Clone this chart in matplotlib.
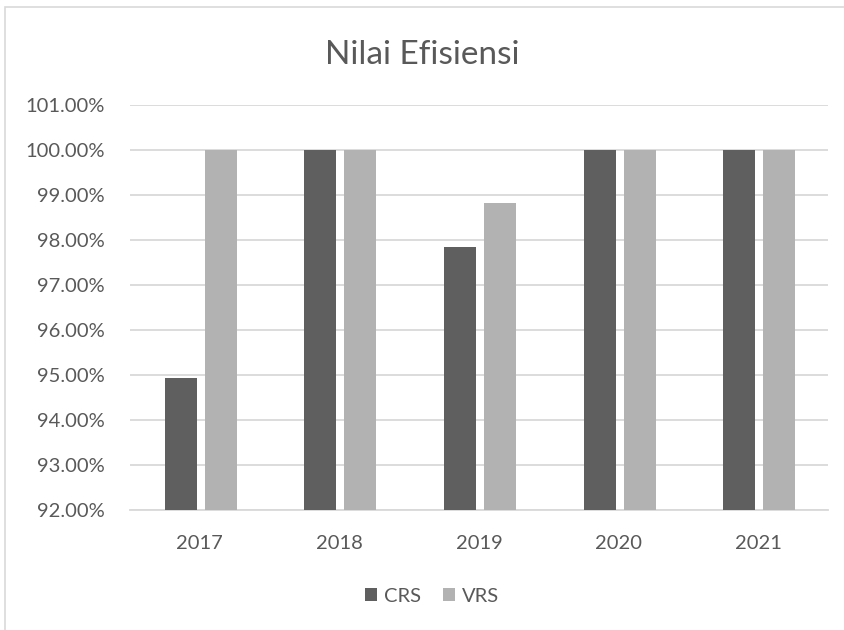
import matplotlib
matplotlib.use("Agg")
import matplotlib.pyplot as plt
from matplotlib.patches import Rectangle
import numpy as np

years = ["2017", "2018", "2019", "2020", "2021"]
crs = [94.93, 100.0, 97.85, 100.0, 100.0]
vrs = [100.0, 100.0, 98.82, 100.0, 100.0]
yticks = [92, 93, 94, 95, 96, 97, 98, 99, 100, 101]

plt.rcParams['font.family'] = ['Lato', 'DejaVu Sans']
txt = '#595959'
grid = '#d9d9d9'

fig = plt.figure(figsize=(8.45, 6.3), dpi=100)
fig.patches.append(Rectangle((5/845, -0.1), 1.2, 1 - 7/630 + 0.1, transform=fig.transFigure,
                             fill=False, edgecolor=grid, linewidth=1.2))
ax = fig.add_axes([130/845, 1 - 510/630, 698/845, 405/630])
x = np.arange(len(years))
w = 0.229
ax.bar(x - 0.136, [c - 92 for c in crs], w, bottom=92, color='#5f5f5f', label='CRS', zorder=3)
ax.bar(x + 0.15, [v - 92 for v in vrs], w, bottom=92, color='#b2b2b2', label='VRS', zorder=3)
ax.set_ylim(92, 101)
ax.set_xlim(-0.5, len(years) - 0.5)
ax.set_yticks(yticks)
ax.set_yticklabels([f"{t:.2f}%" for t in yticks])
ax.set_xticks(x)
ax.set_xticklabels(years)
ax.grid(axis='y', color=grid, linewidth=1.3, zorder=0)
for s in ['top', 'right', 'left']:
    ax.spines[s].set_visible(False)
ax.spines['bottom'].set_color(grid)
ax.spines['bottom'].set_linewidth(1.3)
ax.tick_params(axis='both', length=0, colors=txt, labelsize=14.5)
ax.tick_params(axis='y', pad=18)
ax.tick_params(axis='x', pad=18)
fig.text(0.5, 1 - 55/630, "Nilai Efisiensi", ha='center', va='center', fontsize=24, color=txt)
fig.legend(loc='center', bbox_to_anchor=(432/845, 1 - 596/630), ncol=2, frameon=False,
           fontsize=14.5, labelcolor=txt, handlelength=0.6, handleheight=0.6,
           handletextpad=0.35, columnspacing=1.1)
fig.savefig("out.png", dpi=100, facecolor='white')
